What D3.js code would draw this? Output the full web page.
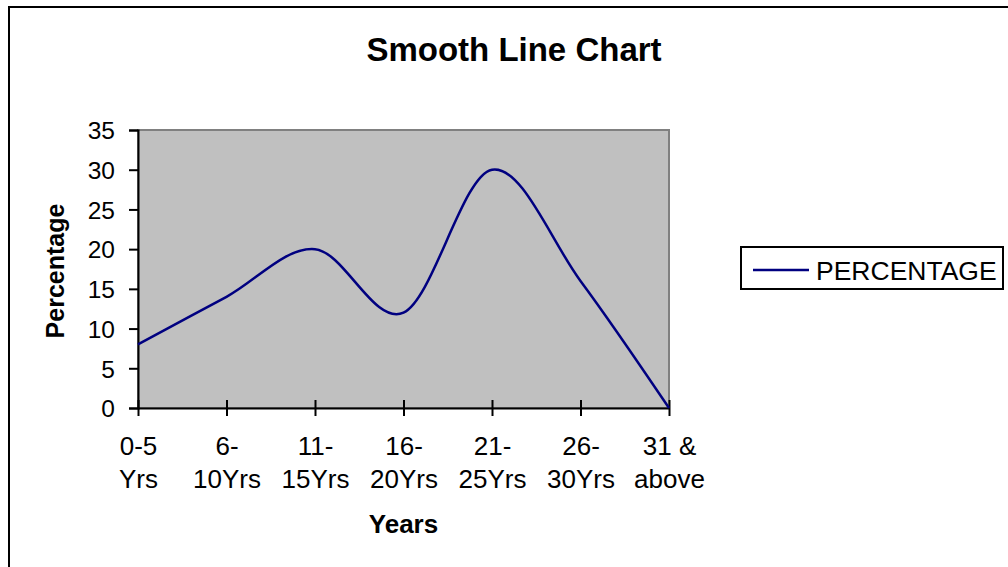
<!DOCTYPE html>
<html>
<head>
<meta charset="UTF-8">
<title>Smooth Line Chart</title>
<script src="https://cdn.jsdelivr.net/npm/d3@7"></script>
<style>
  body { margin: 0; background: #fff; }
  text { font-family: "Liberation Sans", Arial, sans-serif; fill: #000; }
</style>
</head>
<body>
<div id="chart"></div>
<script>
const categories = ["0-5\nYrs", "6-\n10Yrs", "11-\n15Yrs", "16-\n20Yrs", "21-\n25Yrs", "26-\n30Yrs", "31 &\nabove"];
const percentage = [8, 14, 20, 12, 30, 16, 0];
const yTicks = [0, 5, 10, 15, 20, 25, 30, 35];
const seriesName = "PERCENTAGE";

const width = 1008, height = 567;
const plotLeft = 138, plotRight = 669, plotTop = 130, plotBottom = 408;

const svg = d3.select("#chart").append("svg")
  .attr("width", width)
  .attr("height", height);

// outer chart frame
svg.append("rect")
  .attr("x", 9).attr("y", 7)
  .attr("width", width).attr("height", height)
  .attr("fill", "#fff")
  .attr("stroke", "#000")
  .attr("stroke-width", 2);

const x = d3.scalePoint().domain(categories).range([plotLeft, plotRight]);
const y = d3.scaleLinear().domain([0, 35]).range([plotBottom, plotTop]);

// plot area
svg.append("rect")
  .attr("x", plotLeft).attr("y", plotTop)
  .attr("width", plotRight - plotLeft).attr("height", plotBottom - plotTop)
  .attr("fill", "#c0c0c0")
  .attr("stroke", "#808080")
  .attr("stroke-width", 2);

// y axis
const yAxis = svg.append("g")
  .attr("transform", `translate(${plotLeft},0)`)
  .call(d3.axisLeft(y).tickValues(yTicks).tickSize(9).tickPadding(14));
yAxis.select(".domain").attr("stroke", "#000").attr("stroke-width", 2);
yAxis.selectAll(".tick line").attr("stroke", "#000").attr("stroke-width", 2);
yAxis.selectAll(".tick text")
  .attr("font-family", "Liberation Sans, Arial, sans-serif")
  .attr("font-size", 24.5)
  .attr("dy", "0.36em");

// x axis, ticks cross the axis line
const xAxis = svg.append("g")
  .attr("transform", `translate(0,${plotBottom})`)
  .call(d3.axisBottom(x).tickSizeInner(8).tickSizeOuter(0).tickFormat(""));
xAxis.select(".domain").attr("stroke", "#000").attr("stroke-width", 2);
xAxis.selectAll(".tick line")
  .attr("y1", -8).attr("y2", 8)
  .attr("stroke", "#000").attr("stroke-width", 2);
xAxis.selectAll(".tick").each(function(d) {
  const t = d3.select(this).append("text")
    .attr("text-anchor", "middle")
    .attr("font-size", 26);
  d.split("\n").forEach((line, i) => {
    t.append("tspan").attr("x", 0).attr("y", 47 + i * 33).text(line);
  });
});

// smooth line
const line = d3.line()
  .x((d, i) => x(categories[i]))
  .y(d => y(d))
  .curve(d3.curveCatmullRom.alpha(0));

svg.append("path")
  .datum(percentage)
  .attr("d", line)
  .attr("fill", "none")
  .attr("stroke", "#000080")
  .attr("stroke-width", 2.5);

// titles
svg.append("text")
  .attr("x", 514).attr("y", 61)
  .attr("text-anchor", "middle")
  .attr("font-size", 33).attr("font-weight", "bold")
  .text("Smooth Line Chart");

svg.append("text")
  .attr("x", (plotLeft + plotRight) / 2).attr("y", 533)
  .attr("text-anchor", "middle")
  .attr("font-size", 26).attr("font-weight", "bold")
  .text("Years");

svg.append("text")
  .attr("transform", `translate(64,${(plotTop + plotBottom) / 2 + 2}) rotate(-90)`)
  .attr("text-anchor", "middle")
  .attr("font-size", 25).attr("font-weight", "bold")
  .text("Percentage");

// legend
const lg = svg.append("g");
lg.append("rect")
  .attr("x", 741).attr("y", 247)
  .attr("width", 262).attr("height", 42)
  .attr("fill", "#fff")
  .attr("stroke", "#000")
  .attr("stroke-width", 2);
lg.append("line")
  .attr("x1", 753).attr("x2", 809)
  .attr("y1", 270).attr("y2", 270)
  .attr("stroke", "#000080")
  .attr("stroke-width", 2.5);
lg.append("text")
  .attr("x", 816).attr("y", 280)
  .attr("font-size", 26.5)
  .text(seriesName);
</script>
</body>
</html>
